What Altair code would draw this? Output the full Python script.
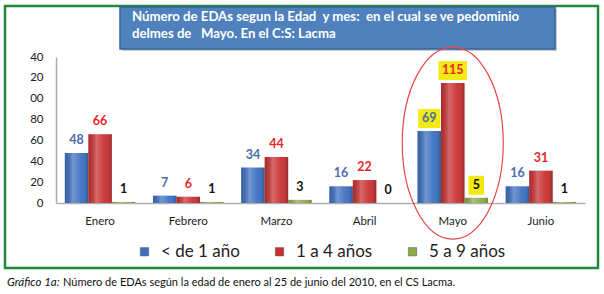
import altair as alt
import pandas as pd

meses = ["Enero", "Febrero", "Marzo", "Abril", "Mayo", "Junio"]
series = ["< de 1 año", "1 a 4 años", "5 a 9 años"]
menor_1 = [48, 7, 34, 16, 69, 16]
de_1_a_4 = [66, 6, 44, 22, 115, 31]
de_5_a_9 = [1, 1, 3, 0, 5, 1]
colores = ["#3B6FC0", "#C8302F", "#8EA84A"]
colores_etiqueta = ["#4A6EA8", "#E8262A", "#111111"]
destacado = "Mayo"
y_ticks = [0, 20, 40, 60, 80, 100, 120, 140]

titulo_1 = "Número de EDAs segun la Edad \u00a0y mes: \u00a0en el cual se ve pedominio"
titulo_2 = "delmes de \u00a0 Mayo. En el C:S: Lacma"
pie_italica = "Gráfico 1a:"
pie_texto = "Número de EDAs según la edad de enero al 25 de junio del 2010, en el CS Lacma."

FONT = "Lato"

rows = []
for i, m in enumerate(meses):
    for s, vals, lc in zip(series, [menor_1, de_1_a_4, de_5_a_9], colores_etiqueta):
        rows.append({"mes": m, "serie": s, "valor": vals[i], "lcolor": lc})
df = pd.DataFrame(rows)

x_axis = alt.Axis(labelAngle=0, ticks=False, domainColor="#B0B0B0",
                  labelFont=FONT, labelFontSize=11.5, labelColor="#222",
                  labelPadding=12, domainWidth=1.5)
x_scale = alt.Scale(paddingInner=0.2, paddingOuter=0.1)
x_enc = alt.X("mes:N", sort=meses, title=None, scale=x_scale, axis=x_axis)
xo_enc = alt.XOffset("serie:N", sort=series, scale=alt.Scale(paddingInner=0))
y_scale = alt.Scale(domain=[0, 140], nice=False)
y_axis = alt.Axis(values=y_ticks, grid=False, ticks=False, domain=True,
                  domainColor="#A8A8A8", domainWidth=1.5, labelFont=FONT,
                  labelFontSize=11.5, labelColor="#222", labelPadding=13,
                  labelOverlap=False,
                  labelExpr="datum.value >= 100 ? substring(datum.label, 1) : datum.label")


def y_of(field):
    return alt.Y(field, title=None, scale=y_scale, axis=y_axis)


base = alt.Chart(df)

bars = base.mark_bar().encode(
    x=x_enc, xOffset=xo_enc, y=y_of("valor:Q"),
    color=alt.Color("serie:N", sort=series,
                    scale=alt.Scale(domain=series, range=colores),
                    legend=alt.Legend(title=None, orient="none", legendX=80, legendY=186,
                                      direction="horizontal", columns=3, columnPadding=31,
                                      symbolType="square", symbolSize=70,
                                      symbolStrokeColor="#555", symbolStrokeWidth=0.5,
                                      labelFont=FONT, labelFontSize=17, labelColor="#222",
                                      labelOffset=8)),
)

shine = base.mark_bar(color={
    "gradient": "linear", "x1": 0, "x2": 1, "y1": 0, "y2": 0,
    "stops": [{"offset": 0, "color": "rgba(0,0,0,0.12)"},
              {"offset": 0.35, "color": "rgba(255,255,255,0.28)"},
              {"offset": 0.7, "color": "rgba(255,255,255,0.05)"},
              {"offset": 1, "color": "rgba(0,0,0,0.22)"}]}).encode(
    x=x_enc, xOffset=xo_enc, y=y_of("valor:Q"))

boxes = base.transform_filter(alt.datum.mes == destacado).transform_calculate(
    y0="datum.valor + 2.9", y1="datum.valor + 21.1",
    w="length(toString(datum.valor)) * 6.5 + 9").mark_bar(color="#F2EA10").encode(
    x=x_enc, xOffset=xo_enc,
    y=y_of("y0:Q"), y2="y1:Q",
    size=alt.Size("w:Q", scale=None, legend=None))

labels = base.mark_text(dy=-13, baseline="middle", font=FONT, fontSize=12.5,
                        fontWeight="bold").encode(
    x=x_enc, xOffset=xo_enc, y=y_of("valor:Q"),
    text="valor:Q", color=alt.Color("lcolor:N", scale=None))

ellipse_df = pd.DataFrame({"mes": [destacado], "c": [57.5]})
ellipse = alt.Chart(ellipse_df).mark_point(
    shape="M -0.526 0 A 0.526 1 0 1 0 0.526 0 A 0.526 1 0 1 0 -0.526 0 Z",
    size=36864, filled=False, stroke="#E84848", strokeWidth=1.2, opacity=1).encode(
    x=x_enc, y=y_of("c:Q"))

one = pd.DataFrame({"a": [0]})
border = alt.Chart(one).mark_rect(filled=False, stroke="#1F8A3B", strokeWidth=2.5).encode(
    x=alt.value(-51), x2=alt.value(542), y=alt.value(-51), y2=alt.value(211))

title_shadow = alt.Chart(one).mark_rect(color="#9AA8B8", opacity=0.6).encode(
    x=alt.value(66), x2=alt.value(501), y=alt.value(-48), y2=alt.value(-6))
title_box = alt.Chart(one).mark_rect(fill="#4F81BD", stroke="#3A6396", strokeWidth=1.5).encode(
    x=alt.value(64), x2=alt.value(499), y=alt.value(-50), y2=alt.value(-8))
title_l1 = alt.Chart(pd.DataFrame({"t": [titulo_1]})).mark_text(
    align="left", baseline="middle", font=FONT, fontSize=13.2, fontWeight="bold",
    color="white").encode(text="t:N", x=alt.value(76), y=alt.value(-40))
title_l2 = alt.Chart(pd.DataFrame({"t": [titulo_2]})).mark_text(
    align="left", baseline="middle", font=FONT, fontSize=13.2, fontWeight="bold",
    color="white").encode(text="t:N", x=alt.value(76), y=alt.value(-23))

cap1 = alt.Chart(pd.DataFrame({"t": [pie_italica]})).mark_text(
    align="left", baseline="middle", font=FONT, fontSize=11.5, fontStyle="italic",
    color="#111").encode(text="t:N", x=alt.value(-49), y=alt.value(226))
cap2 = alt.Chart(pd.DataFrame({"t": [pie_texto]})).mark_text(
    align="left", baseline="middle", font=FONT, fontSize=11, color="#111").encode(
    text="t:N", x=alt.value(7), y=alt.value(226))

chart = alt.layer(border, title_shadow, title_box, title_l1, title_l2, bars, shine, boxes,
                  labels, ellipse, cap1, cap2).properties(
    width=529, height=146,
    autosize=alt.AutoSizeParams(type="none"),
    padding={"left": 56, "top": 57, "right": 19, "bottom": 91},
    background="white",
).configure_view(stroke=None)

chart.save("out.html", embed_options={"renderer": "svg", "actions": False})
